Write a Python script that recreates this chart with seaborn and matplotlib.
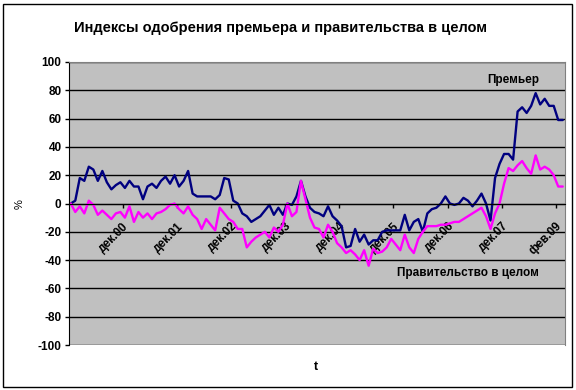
import numpy as np
import pandas as pd
import matplotlib
matplotlib.use("Agg")
import matplotlib.pyplot as plt
import seaborn as sns

# approval index, premier (one value per period)
premier = [0, 2, 18, 16, 26, 24, 16, 23, 15, 10,
           13, 15, 11, 16, 12, 12, 3, 12, 14, 11,
           16, 19, 14, 20, 12, 16, 23, 7, 5, 5,
           5, 5, 3, 6, 18, 17, 2, 0, -7, -9,
           -13, -11, -9, -5, -1, -8, -3, -8, 0, -1,
           5, 16, 5, -3, -6, -7, -9, -2, -9, -12,
           -16, -31, -30, -18, -27, -22, -29, -26, -26, -20,
           -19, -19, -19, -19, -8, -19, -13, -11, -20, -7,
           -4, -3, 0, 5, 0, -1, 0, 4, 2, -2,
           2, 7, 0, -12, 18, 28, 35, 35, 31, 65,
           68, 64, 69, 78, 70, 74, 69, 69, 59, 59]

# approval index, government as a whole
government = [0, -6, -2, -7, 2, -1, -8, -5, -8, -11,
              -7, -6, -10, -2, -13, -6, -10, -7, -11, -7,
              -6, -4, -1, 0, -4, -7, -2, -8, -11, -18,
              -11, -15, -19, -3, -7, -11, -13, -18, -18, -31,
              -27, -24, -22, -20, -24, -17, -20, -15, 0, -9,
              -6, 16, 3, -10, -17, -18, -24, -15, -20, -28,
              -31, -35, -33, -36, -40, -33, -44, -32, -35, -34,
              -31, -25, -29, -33, -22, -31, -35, -25, -20, -16,
              -16, -16, -15, -15, -14, -13, -13, -11, -9, -7,
              -5, -3, -9, -18, -7, 0, 14, 25, 23, 27,
              30, 25, 21, 34, 24, 26, 24, 20, 12, 12]

tick_labels = ["дек.00", "дек.01", "дек.02", "дек.03", "дек.04",
               "дек.05", "дек.06", "дек.07", "фев.09"]
label_every = 12

n = len(premier)
df = pd.DataFrame({
    "t": list(range(n)) * 2,
    "value": premier + government,
    "series": ["Премьер"] * n + ["Правительство в целом"] * n,
})

sns.set_style("white")
plt.rcParams["font.family"] = ["Liberation Sans", "DejaVu Sans"]
plt.rcParams["axes.unicode_minus"] = False
plt.rcParams["text.color"] = "black"
plt.rcParams["xtick.color"] = "black"
plt.rcParams["ytick.color"] = "black"
plt.rcParams["axes.labelcolor"] = "black"

fig = plt.figure(figsize=(5.76, 3.9), dpi=100)
ax = fig.add_axes([68.5 / 576, 1 - 345 / 390, (565 - 68.5) / 576, (345 - 62) / 390])
ax.set_facecolor("#C0C0C0")

sns.lineplot(data=df, x="t", y="value", hue="series",
             palette={"Премьер": "#000080", "Правительство в целом": "#FF00FF"},
             linewidth=1.7, legend=False, ax=ax)

ax.set_xlim(-0.5, n - 0.5)
ax.set_ylim(-100, 100)
ax.set_yticks(np.arange(-100, 101, 20))
ax.yaxis.grid(True, color="black", linewidth=1)
for lab in ax.get_yticklabels():
    lab.set_fontweight("bold")
ax.tick_params(axis="y", labelsize=8.5, length=3, width=1, direction="out", pad=2, left=True)

# category axis crosses at zero
ax.spines["bottom"].set_position(("data", 0))
ax.spines["bottom"].set_color("black")
ax.spines["left"].set_color("black")
ax.spines["top"].set_color("#808080")
ax.spines["right"].set_color("#808080")
pos = [label_every * (k + 1) - 0.5 for k in range(len(tick_labels))]
ax.set_xticks(pos)
ax.set_xticklabels(tick_labels, rotation=45, ha="right", va="top",
                   rotation_mode="anchor", fontsize=8.5, fontweight="bold")
ax.tick_params(axis="x", length=3, width=1, direction="out", pad=9, bottom=True)

ax.set_xlabel("")
ax.set_ylabel("")
fig.text(20 / 576, 1 - 204 / 390, "%", rotation=90, fontsize=8,
         ha="center", va="center")
fig.text(316 / 576, 1 - 367 / 390, "t", fontsize=9, fontweight="bold",
         ha="center", va="center")
fig.text(280 / 576, 1 - 28 / 390, "Индексы одобрения премьера и правительства в целом",
         fontsize=10.5, fontweight="bold", ha="center", va="center")

ax.text(98, 87, "Премьер", fontsize=8.5, fontweight="bold", ha="center", va="center")
ax.text(88, -49, "Правительство в целом", fontsize=8.5, fontweight="bold",
        ha="center", va="center")

fig.add_artist(plt.Rectangle((3 / 576, 3 / 390), 569 / 576, 383 / 390,
                             transform=fig.transFigure, fill=False,
                             edgecolor="black", linewidth=1))

fig.savefig("out.png", dpi=100)
